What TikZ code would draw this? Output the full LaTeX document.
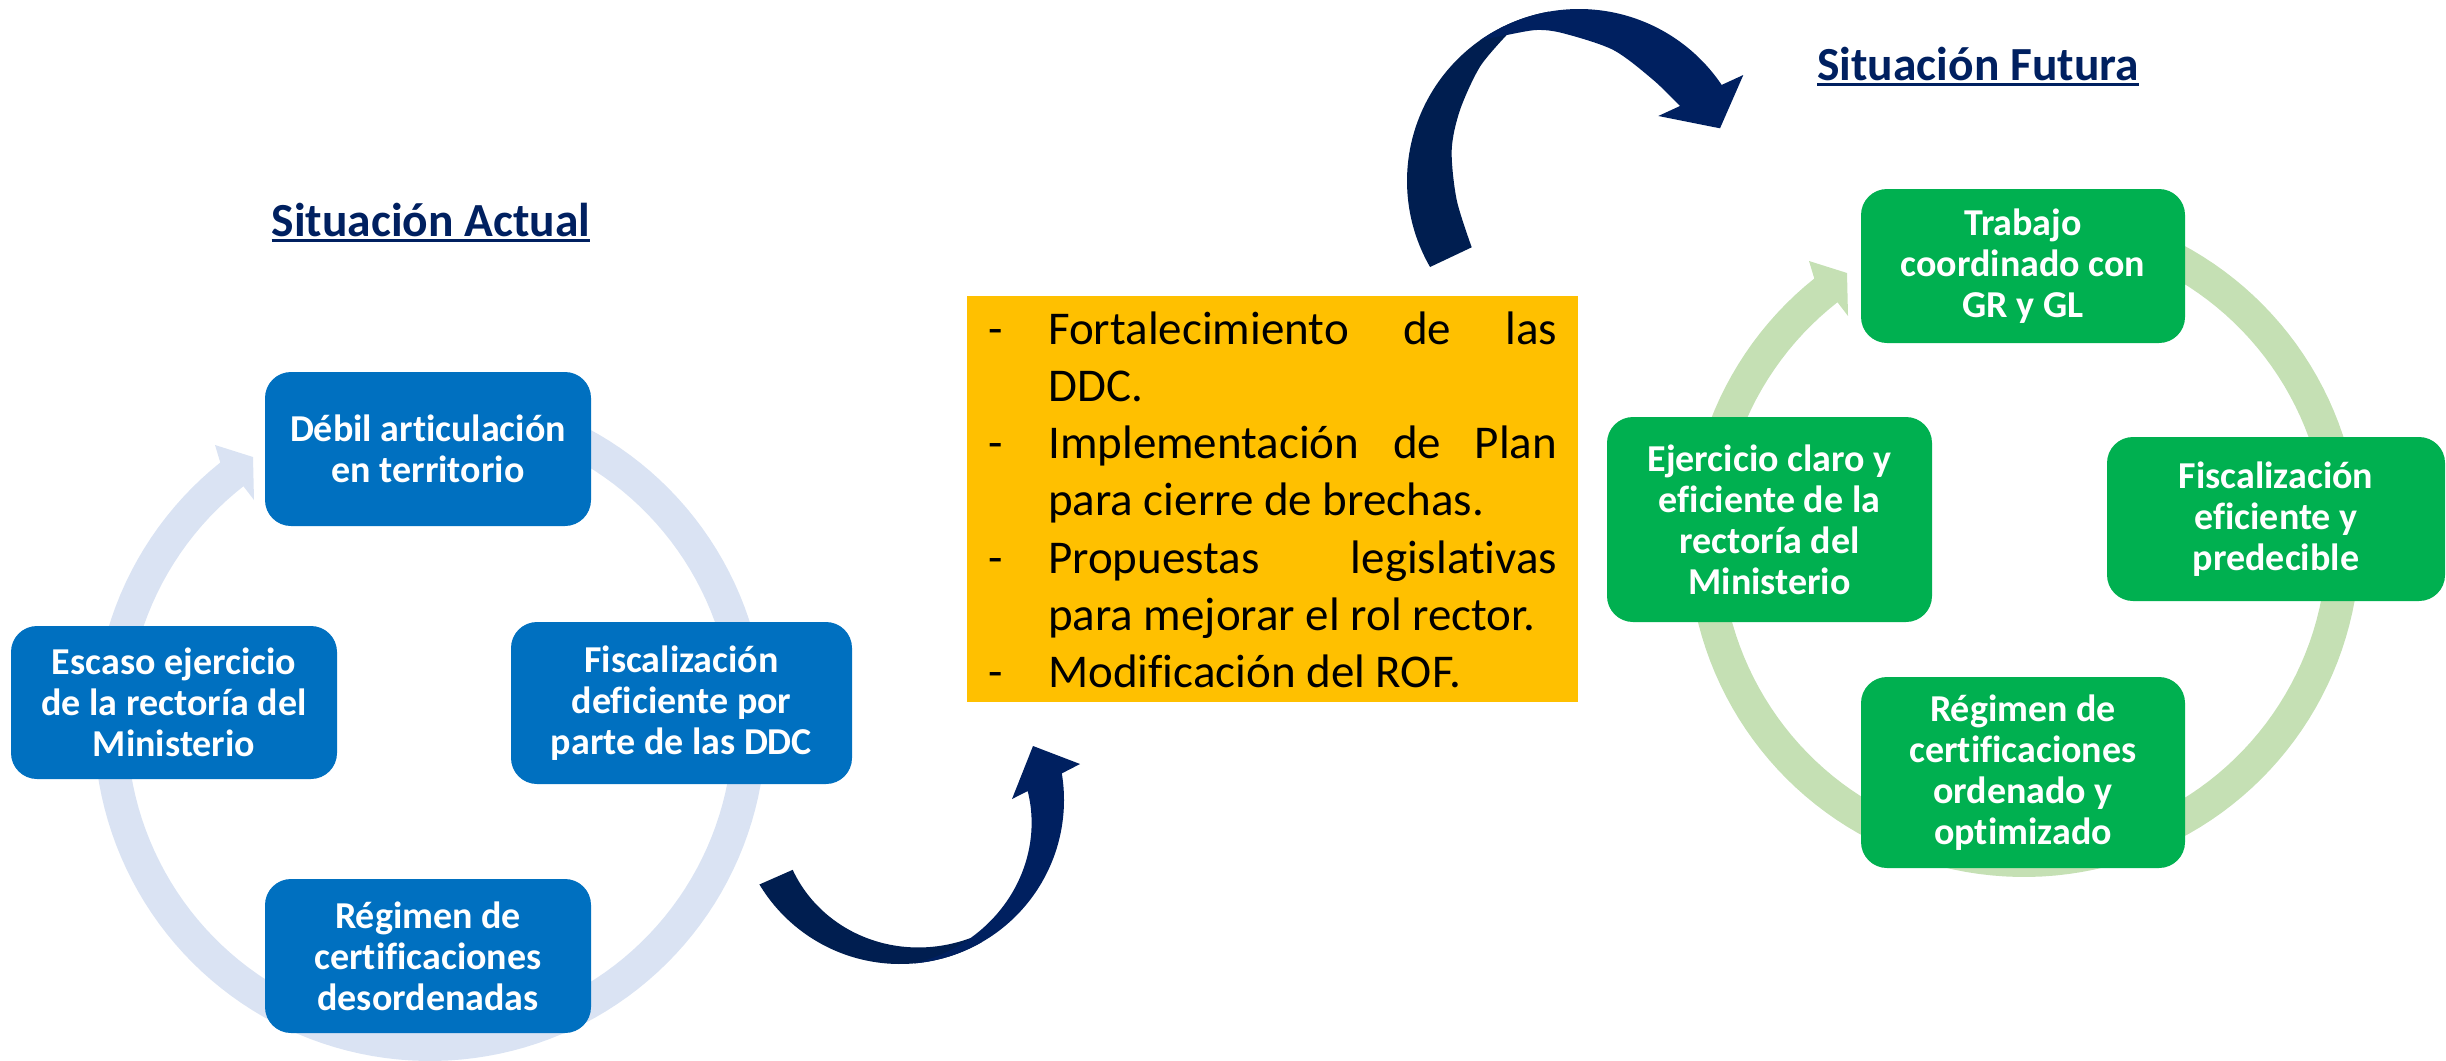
\documentclass[tikz,border=0pt]{standalone}
\usepackage{fontspec}
\setmainfont{Carlito}[Ligatures=NoCommon]
\definecolor{boxblue}{HTML}{0070C0}
\definecolor{boxgreen}{HTML}{00B050}
\definecolor{ringblue}{HTML}{DAE3F3}
\definecolor{ringgreen}{HTML}{C5E0B4}
\definecolor{orangebox}{HTML}{FFC000}
\definecolor{navy}{HTML}{002060}
\definecolor{navyback}{HTML}{001E50}
\begin{document}
\begin{tikzpicture}[x=1pt,y=-1pt,
  cyclebox/.style={rectangle, rounded corners=26pt, text=white, align=center, inner sep=0pt,
    font=\fontsize{38}{41}\selectfont\bfseries},
  bluebox/.style={cyclebox, fill=boxblue},
  greenbox/.style={cyclebox, fill=boxgreen},
  titletext/.style={anchor=base, inner sep=0pt, text=navy, font=\fontsize{47.5}{57}\selectfont\bfseries},
  titleline/.style={draw=navy, line width=3pt}]
\useasboundingbox (0,0) rectangle (2446,1060);

% cycle rings with arrow heads
\foreach \cx/\cy/\col in {430/725/ringblue,2024/541/ringgreen}{
  \fill[\col] plot[domain=0:1,samples=150,variable=\t] ({\cx+336*cos(95-327*\t)},{\cy-336*sin(95-327*\t)})
    -- ({\cx-215},{\cy-280}) -- ({\cx-177},{\cy-268}) -- ({\cx-176},{\cy-225})
    -- plot[domain=0:1,samples=150,variable=\t] ({\cx+303*cos(-232+327*\t)},{\cy-303*sin(-232+327*\t)}) -- cycle;
}

% current situation boxes
\node[bluebox, minimum width=326pt, minimum height=154pt] (b1) at (428,449) {Débil articulación\\en territorio};
\node[bluebox, minimum width=341pt, minimum height=162pt] (b2) at (681.5,703) {Fiscalización\\deficiente por\\parte de las DDC};
\node[bluebox, minimum width=326pt, minimum height=154pt] (b3) at (428,956) {Régimen de\\certificaciones\\desordenadas};
\node[bluebox, minimum width=326pt, minimum height=153pt] (b4) at (174,702.5) {Escaso ejercicio\\de la rectoría del\\Ministerio};

% future situation boxes
\node[greenbox, minimum width=324pt, minimum height=154pt] (g1) at (2023,266) {Trabajo\\coordinado con\\GR y GL};
\node[greenbox, minimum width=338pt, minimum height=164pt] (g2) at (2276,519) {Fiscalización\\eficiente y\\predecible};
\node[greenbox, minimum width=324pt, minimum height=191pt] (g3) at (2023,772.5) {Régimen de\\certificaciones\\ordenado y\\optimizado};
\node[greenbox, minimum width=325pt, minimum height=205pt] (g4) at (1769.5,519.5) {Ejercicio claro y\\eficiente de la\\rectoría del\\Ministerio};

% titles
\node[titletext] (tact) at (431,236) {Situación Actual};
\draw[titleline] ([yshift=-4pt]tact.base west) -- ([yshift=-4pt]tact.base east);
\node[titletext] (tfut) at (1978,80) {Situación Futura};
\draw[titleline] ([yshift=-4pt]tfut.base west) -- ([yshift=-4pt]tfut.base east);

% central box
\node[fill=orangebox, minimum width=611pt, minimum height=406pt, inner sep=0pt] (plan) at (1272.5,499) {};
\node[anchor=north west, inner sep=0pt, align=left, font=\fontsize{47}{57.2}\selectfont] (plantext) at (988,304) {%
\strut\makebox[60pt][l]{-}\hbox to 509pt{Fortalecimiento\hfill de\hfill las}\\
\hspace*{60pt}DDC.\\
\makebox[60pt][l]{-}\hbox to 509pt{Implementación\hfill de\hfill Plan}\\
\hspace*{60pt}para cierre de brechas.\\
\makebox[60pt][l]{-}\hbox to 509pt{Propuestas\hfill legislativas}\\
\hspace*{60pt}para mejorar el rol rector.\\
\makebox[60pt][l]{-}Modificación del ROF.};

% lower curved arrow (centre 900,800)
\fill[navyback] plot[domain=0:1,samples=80,variable=\t] ({900+164*cos(-149+89*\t)},{800-164*sin(-149+89*\t)})
  -- plot[domain=0:1,samples=80,variable=\t] ({900+(155-27*\t)*cos(-63-84*\t)},{800-(155-27*\t)*sin(-63-84*\t)}) -- cycle;
\fill[navy] plot[domain=0:1,samples=80,variable=\t] ({900+164*cos(-85+94.4*\t)},{800-164*sin(-85+94.4*\t)})
  -- (1080,764) -- (1033,746) -- (1012,799)
  -- plot[domain=0:1,samples=80,variable=\t] ({900+(128+35.9*\t)*cos(4-89*\t)},{800-(128+35.9*\t)*sin(4-89*\t)}) -- cycle;

% upper curved arrow (centre 1579,181)
\fill[navyback] plot[domain=0:1,samples=80,variable=\t] ({1579+172*cos(210-110*\t)},{181-172*sin(210-110*\t)})
  -- plot[smooth] coordinates {(1506.7,35) (1480,66.7) (1460,110) (1451.7,150) (1456.7,200) (1471.7,247.3)} -- cycle;
\fill[navy] plot[domain=0:1,samples=80,variable=\t] ({1579+172*cos(125-91.1*\t)},{181-172*sin(125-91.1*\t)})
  -- (1743.3,75) -- (1720,128.3) -- (1658.3,116)
  -- plot[smooth] coordinates {(1680,106) (1653.3,80) (1613.3,50) (1563.3,33.3) (1536.7,30) (1506.7,35) (1480,40)} -- cycle;
\end{tikzpicture}
\end{document}
